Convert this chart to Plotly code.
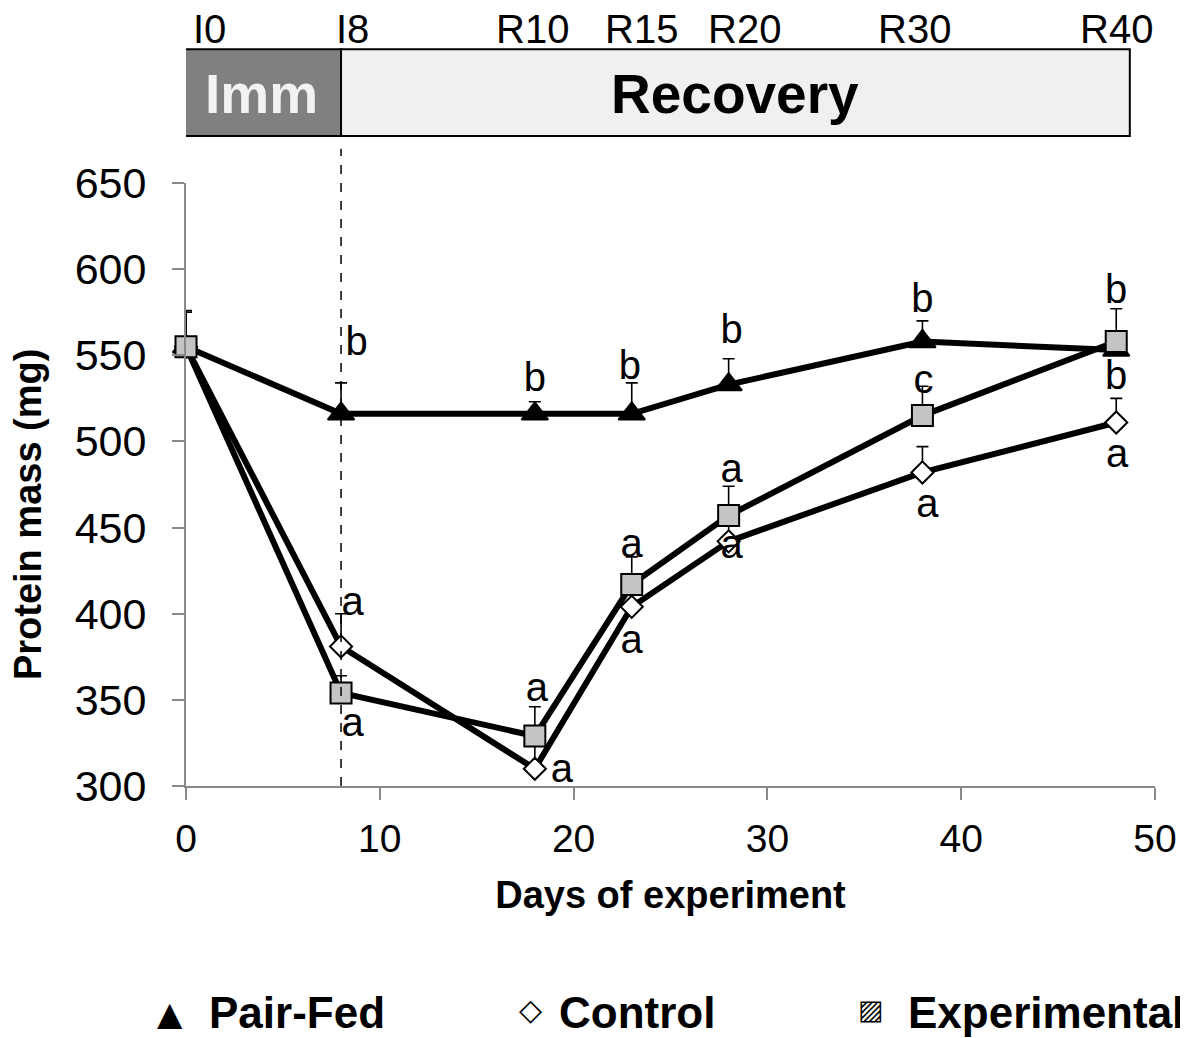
import plotly.graph_objects as go

# ---------------- data ----------------
days = [0, 8, 18, 23, 28, 38, 48]

pairfed = [555, 516, 516, 516, 533, 558, 553]
pairfed_err = [20, 18, 7, 18, 15, 12, 8]

control = [555, 381, 310, 404, 442, 482, 511]
control_err = [20, 19, 16, 12, 14, 15, 14]

experimental = [555, 354, 329, 417, 457, 515, 558]
experimental_err = [21, 10, 17, 16, 17, 17, 19]

series_names = ["Pair-Fed", "Control", "Experimental"]

# significance letters: (day, value) positions of each letter
letters = ["b", "b", "b", "b", "b", "b",
           "a", "a", "a", "a", "c", "b",
           "a", "a", "a", "a", "a", "a"]
letter_x = [8.8, 18.0, 22.9, 28.15, 38.0, 48.0,
            8.6, 18.1, 23.0, 28.15, 38.05, 48.0,
            8.6, 19.4, 23.0, 28.15, 38.25, 48.05]
letter_y = [556, 535, 542, 563, 581, 586,
            335, 355, 439, 482, 534, 536,
            405, 308, 383, 438, 462, 491]

period_labels = ["I0", "I8", "R10", "R15", "R20", "R30", "R40"]
period_label_x = [1.2, 8.6, 17.9, 23.5, 28.8, 37.6, 48.0]

phase_names = ["Imm", "Recovery"]
phase_start = [-0.2, 8.0]
phase_end = [8.0, 48.7]
phase_fill = ["#808080", "#f0f0f0"]
phase_text_color = ["#f2f2f2", "black"]

FONT = "Liberation Sans, Arial, sans-serif"
SYMFONT = "DejaVu Sans, sans-serif"

fig = go.Figure()

def add_series(y, err, symbol, size, fill, name):
    fig.add_trace(go.Scatter(
        x=days, y=y, mode="lines+markers", name=name, showlegend=False,
        cliponaxis=False,
        line=dict(color="black", width=6),
        marker=dict(symbol=symbol, size=size, color=fill,
                    line=dict(color="black", width=2)),
        error_y=dict(type="data", symmetric=False, array=err,
                     arrayminus=[0] * len(err), color="black",
                     thickness=1.6, width=6),
    ))

add_series(pairfed, pairfed_err, "triangle-up", 23, "black", series_names[0])
add_series(control, control_err, "diamond", 17, "white", series_names[1])
add_series(experimental, experimental_err, "square", 21, "#c4c4c4", series_names[2])

# significance letters
fig.add_trace(go.Scatter(
    x=letter_x, y=letter_y, mode="text", text=letters, showlegend=False,
    textposition="middle center",
    textfont=dict(family=FONT, size=40, color="black"),
    cliponaxis=False,
))

shapes = []
annotations = []
# phase boxes
for nm, x0, x1, fc, tc in zip(phase_names, phase_start, phase_end, phase_fill, phase_text_color):
    shapes.append(dict(type="rect", xref="x", yref="paper", x0=x0, x1=x1,
                       y0=1.078, y1=1.222, fillcolor=fc,
                       line=dict(color="black", width=2), layer="above"))
    annotations.append(dict(xref="x", yref="paper", x=(x0 + x1) / 2, y=1.148,
                            text="<b>%s</b>" % nm, showarrow=False,
                            font=dict(family=FONT, size=55, color=tc),
                            xanchor="center", yanchor="middle"))
for lab, lx in zip(period_labels, period_label_x):
    annotations.append(dict(xref="x", yref="paper", x=lx, y=1.255, text=lab,
                            showarrow=False, xanchor="center", yanchor="middle",
                            font=dict(family=FONT, size=40, color="black")))

# y-axis title
annotations.append(dict(xref="paper", yref="paper", x=-0.163, y=0.451,
                        text="<b>Protein mass (mg)</b>", textangle=-90,
                        showarrow=False, xanchor="center", yanchor="middle",
                        font=dict(family=FONT, size=38, color="black")))

# legend (symbol glyph + bold name) below the chart
legend_symbols = ["\u25B2", "\u25C7", "\u25A8"]
legend_symbol_size = [33, 30, 27]
legend_symbol_x = [-0.0165, 0.356, 0.707]
legend_symbol_y = [-0.378, -0.370, -0.370]
legend_text_x = [0.0227, 0.384, 0.744]
for sym, ssz, sx, sy, nm, tx in zip(legend_symbols, legend_symbol_size, legend_symbol_x,
                                     legend_symbol_y, series_names, legend_text_x):
    annotations.append(dict(xref="paper", yref="paper", x=sx, y=sy, text=sym,
                            showarrow=False, xanchor="center", yanchor="middle",
                            borderpad=0,
                            font=dict(family=SYMFONT, size=ssz, color="black")))
    annotations.append(dict(xref="paper", yref="paper", x=tx, y=-0.3748,
                            text="<b>%s</b>" % nm, showarrow=False,
                            xanchor="left", yanchor="middle", borderpad=0,
                            font=dict(family=FONT, size=44, color="black")))

# dashed line at end of immobilisation
shapes.append(dict(type="line", xref="x", yref="paper", x0=days[1], x1=days[1],
                   y0=0, y1=1.057, line=dict(color="black", width=1.5, dash="dash")))

fig.update_layout(
    width=1180, height=1030,
    margin=dict(l=178, r=33, t=175, b=252),
    paper_bgcolor="white", plot_bgcolor="white",
    font=dict(family=FONT, color="black"),
    showlegend=False,
    shapes=shapes, annotations=annotations,
    xaxis=dict(range=[0, 50], tickvals=[0, 10, 20, 30, 40, 50], showgrid=False,
               zeroline=False, showline=True, linecolor="#898989", linewidth=2,
               ticks="outside", ticklen=12, tickwidth=2, tickcolor="#898989",
               tickfont=dict(family=FONT, size=39, color="black"),
               ticklabelstandoff=5,
               title=dict(text="<b>Days of experiment</b>", standoff=23,
                          font=dict(family=FONT, size=38, color="black"))),
    yaxis=dict(range=[300, 650], tickvals=[300, 350, 400, 450, 500, 550, 600, 650],
               showgrid=False, zeroline=False, showline=True, linecolor="#898989",
               linewidth=2, ticks="outside", ticklen=12, tickwidth=2,
               tickcolor="#898989",
               tickfont=dict(family=FONT, size=43, color="black"),
               ticklabelstandoff=17),
)

fig.write_html("out.html")
